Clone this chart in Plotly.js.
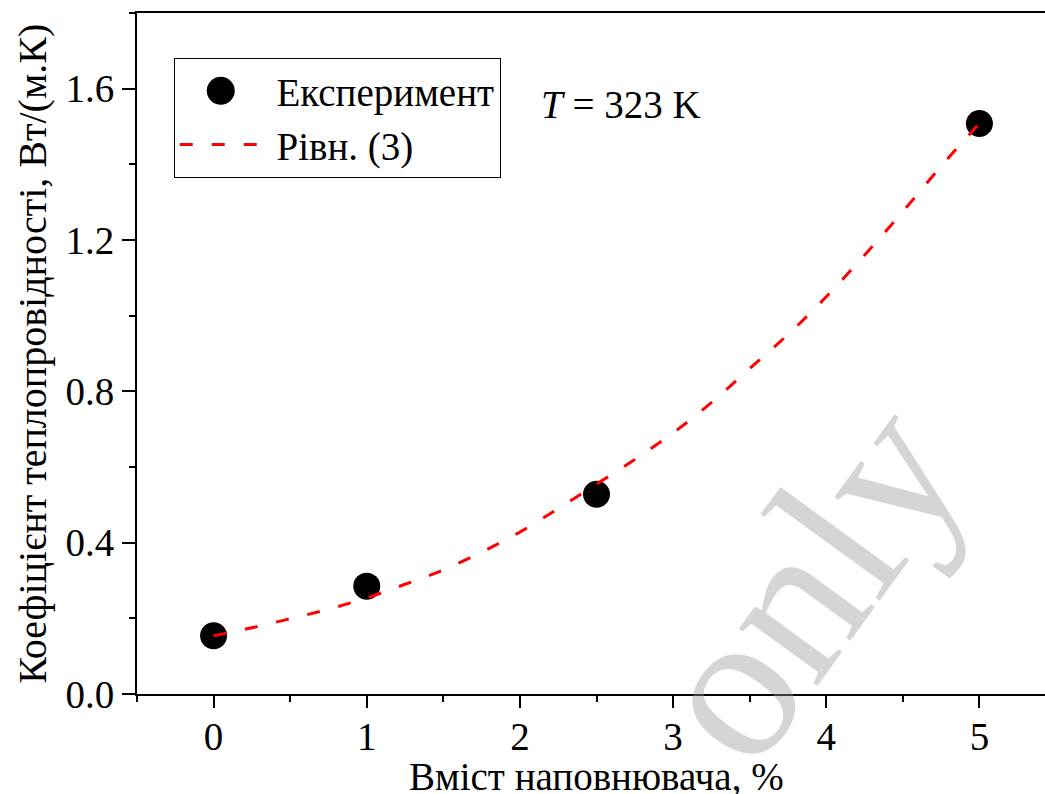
<!DOCTYPE html>
<html>
<head>
<meta charset="utf-8">
<script src="https://cdn.plot.ly/plotly-3.0.1.min.js"></script>
<style>
html, body { margin: 0; padding: 0; overflow: hidden; background: #fff; }
#chart { width: 1060px; height: 794px; }
</style>
</head>
<body>
<div id="chart"></div>
<script>
// Experimental points
const expX = [0, 1, 2.5, 5];
const expY = [0.154, 0.285, 0.528, 1.508];
// Equation (3) curve
const fitX = [0, 0.25, 0.5, 0.75, 1, 1.25, 1.5, 1.75, 2, 2.25, 2.5, 2.75, 3, 3.25, 3.5, 3.75, 4, 4.25, 4.5, 4.75, 5];
const fitY = [0.154, 0.175, 0.199, 0.224, 0.254, 0.290, 0.328, 0.375, 0.428, 0.490, 0.555, 0.620, 0.690, 0.770, 0.860, 0.950, 1.050, 1.160, 1.275, 1.395, 1.508];

const seriesNames = ['Експеримент', 'Рівн. (3)'];
const xTitle = 'Вміст наповнювача, %';
const yTitle = 'Коефіцієнт теплопровідності, Вт/(м.К)';
const noteText = '<i>T</i> = 323 K';
const watermark = 'only';

const FONT = 'Liberation Serif';
const PAD = '\u00a0';

const traces = [
  {
    x: expX, y: expY, name: PAD + seriesNames[0], type: 'scatter', mode: 'markers',
    marker: { color: '#000000', size: 27 }
  },
  {
    x: fitX, y: fitY, name: PAD + seriesNames[1], type: 'scatter', mode: 'lines',
    line: { color: '#ff0000', width: 3, dash: '13px,19px', shape: 'spline' }
  }
];

const layout = {
  width: 1060, height: 794,
  margin: { l: 137, r: 4, t: 13, b: 100 },
  paper_bgcolor: '#ffffff', plot_bgcolor: '#ffffff',
  font: { family: FONT, size: 39, color: '#000' },
  showlegend: true,
  legend: {
    x: 0.040, y: 0.934, xanchor: 'left', yanchor: 'top',
    bgcolor: '#ffffff', bordercolor: '#000', borderwidth: 1,
    font: { family: FONT, size: 39, color: '#000' },
    itemwidth: 82, tracegroupgap: 0, itemclick: false, traceorder: 'normal'
  },
  xaxis: {
    range: [-0.5, 5.5], dtick: 1, tick0: 0,
    showgrid: false, zeroline: false,
    showline: true, linecolor: '#000', linewidth: 2, mirror: true,
    ticks: 'outside', ticklen: 12, tickwidth: 2, tickcolor: '#000',
    ticklabelstandoff: -5,
    minor: { dtick: 0.5, tick0: 0, ticks: 'outside', ticklen: 6, tickwidth: 2, tickcolor: '#000', showgrid: false },
    tickfont: { family: FONT, size: 39, color: '#000' }
  },
  yaxis: {
    range: [0, 1.8], dtick: 0.4, tick0: 0, tickformat: '.1f',
    showgrid: false, zeroline: false,
    showline: true, linecolor: '#000', linewidth: 2, mirror: true,
    ticks: 'outside', ticklen: 13, tickwidth: 2, tickcolor: '#000',
    minor: { dtick: 0.2, tick0: 0, ticks: 'outside', ticklen: 6, tickwidth: 2, tickcolor: '#000', showgrid: false },
    tickfont: { family: FONT, size: 39, color: '#000' }
  },
  annotations: [
    { text: watermark, xref: 'paper', yref: 'paper', x: 0.727, y: 0.165,
      xanchor: 'center', yanchor: 'middle', showarrow: false, textangle: -54,
      font: { family: FONT, size: 212, color: 'rgba(150,150,150,0.4)' } },
    { text: noteText, xref: 'paper', yref: 'paper', x: 0.437, y: 0.865,
      xanchor: 'left', yanchor: 'middle', showarrow: false,
      font: { family: FONT, size: 39, color: '#000' } },
    { text: xTitle, xref: 'paper', yref: 'paper', x: 0.5, y: -0.121,
      xanchor: 'center', yanchor: 'middle', showarrow: false,
      font: { family: FONT, size: 39, color: '#000' } },
    { text: yTitle, xref: 'paper', yref: 'paper', x: -0.1139, y: 0.5,
      xanchor: 'center', yanchor: 'middle', showarrow: false, textangle: -90,
      font: { family: FONT, size: 40, color: '#000' } }
  ]
};

Plotly.newPlot('chart', traces, layout, { displayModeBar: false, staticPlot: true }).then(function (gd) {
  // enlarge the legend marker to match the plotted marker size
  var r = 14;
  var d = 'M' + r + ',0A' + r + ',' + r + ' 0 1,1 0,-' + r + 'A' + r + ',' + r + ' 0 0,1 ' + r + ',0Z';
  gd.querySelectorAll('.legend .legendpoints path.scatterpts').forEach(function (p) {
    p.setAttribute('d', d);
  });
});
</script>
</body>
</html>
